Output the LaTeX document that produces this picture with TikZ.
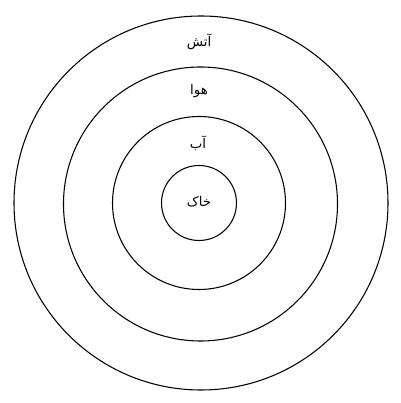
\documentclass[tikz,border=0pt]{standalone}
\usepackage{fontspec}
\newfontfamily\arabicfont[Script=Arabic]{DejaVu Sans}
\TeXXeTstate=1
\tikzset{
  ring/.style={draw=black, line width=0.8pt},
  element/.style={font=\arabicfont\fontsize{10}{12}\selectfont, inner sep=1pt}
}

\begin{document}
\begin{tikzpicture}[x=0.75pt, y=0.75pt]
  \def\Cx{200};
  \def\Cy{201};
  \useasboundingbox (0,0) rectangle (400,403);
        % the four spheres
        \draw[ring] (\Cx + 1, \Cy - 1) circle (187*0.75pt);
        \draw[ring] (\Cx + 0.5, \Cy - 2) circle (137*0.75pt);
        \draw[ring] (\Cx - 1, \Cy - 1) circle (86.5*0.75pt);
        \draw[ring] (\Cx - 1, \Cy - 1) circle (37.5*0.75pt);

        \node[element] (fire) at (\Cx - 1, 403 - 42) {\beginR آتش\endR};
        \node[element] (air) at (\Cx - 1, 403 - 91) {\beginR هوا\endR};
        \node[element] (water) at (\Cx - 2, 403 - 143) {\beginR آب\endR};
        \node[element] (earth) at (\Cx - 1, 403 - 202) {\beginR خاک\endR};
\end{tikzpicture}
\end{document}
